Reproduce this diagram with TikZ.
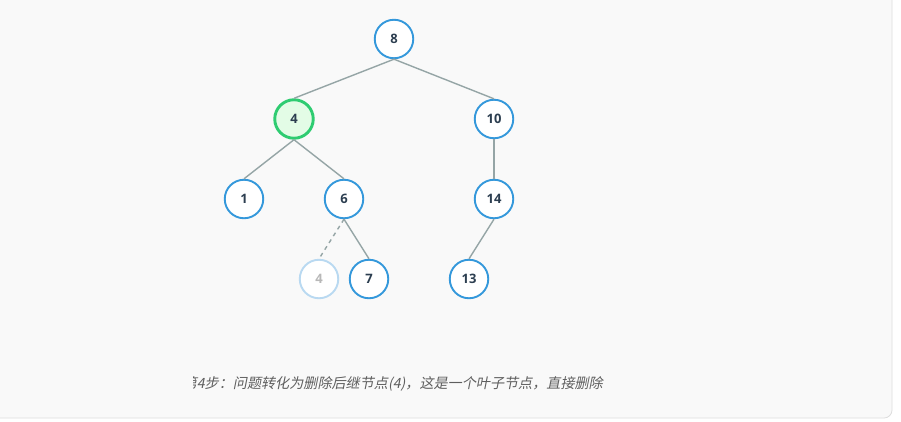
\documentclass[tikz,border=0pt]{standalone}
\usepackage{fontspec}
\setmainfont{Open Sans}
\newfontfamily\cjk[FakeSlant=0.2]{Noto Sans CJK SC}
\definecolor{panel}{HTML}{F9F9F9}
\definecolor{panelborder}{HTML}{DDDDDD}
\definecolor{nodeblue}{HTML}{3498DB}
\definecolor{ghostblue}{HTML}{B9D9F1}
\definecolor{nodegreen}{HTML}{2ECC71}
\definecolor{greenfill}{HTML}{E3FCE6}
\definecolor{edgegray}{HTML}{95A5A6}
\definecolor{textdark}{HTML}{2C3E50}
\definecolor{captiongray}{HTML}{5E5E5E}
\begin{document}
\begin{tikzpicture}[x=1pt,y=-1pt,
  tnode/.style={circle,draw=nodeblue,line width=1.9pt,fill=white,minimum size=38.5pt,inner sep=0pt,
    font=\bfseries\fontsize{13}{15}\selectfont,text=textdark},
  hnode/.style={tnode,draw=nodegreen,line width=2.9pt,fill=greenfill},
  gnode/.style={tnode,draw=ghostblue,text=black!28},
  edge/.style={draw=edgegray,line width=1.4pt},
  ghostedge/.style={edge,dashed,dash pattern=on 4pt off 4pt}]
\useasboundingbox (0,0) rectangle (901,421);
\fill[white] (0,0) rectangle (901,421);
\draw[panelborder,fill=panel,rounded corners=8pt,line width=0.8pt] (-10,-10) rectangle (892,418);
\node[tnode] (n8) at (394,39) {8};
\node[hnode] (n4) at (294,119) {4};
\node[tnode] (n10) at (494,119) {10};
\node[tnode] (n1) at (244,199) {1};
\node[tnode] (n6) at (344,199) {6};
\node[tnode] (n14) at (494,199) {14};
\node[gnode] (g4) at (319,279) {4};
\node[tnode] (n7) at (369,279) {7};
\node[tnode] (n13) at (469,279) {13};
\draw[edge] (n8.south) -- (n4.north);
\draw[edge] (n8.south) -- (n10.north);
\draw[edge] (n4.south) -- (n1.north);
\draw[edge] (n4.south) -- (n6.north);
\draw[edge] (n10.south) -- (n14.north);
\draw[ghostedge] (n6.south) -- (g4.north);
\draw[edge] (n6.south) -- (n7.north);
\draw[edge] (n14.south) -- (n13.north);
\begin{scope}
\clip (193,365) rectangle (700,400);
\node[anchor=east,text=captiongray,font=\cjk\fontsize{14.1}{16}\selectfont,inner sep=0pt] (cap) at (603,384) {第4步：问题转化为删除后继节点(4)，这是一个叶子节点，直接删除};
\end{scope}
\end{tikzpicture}
\end{document}
